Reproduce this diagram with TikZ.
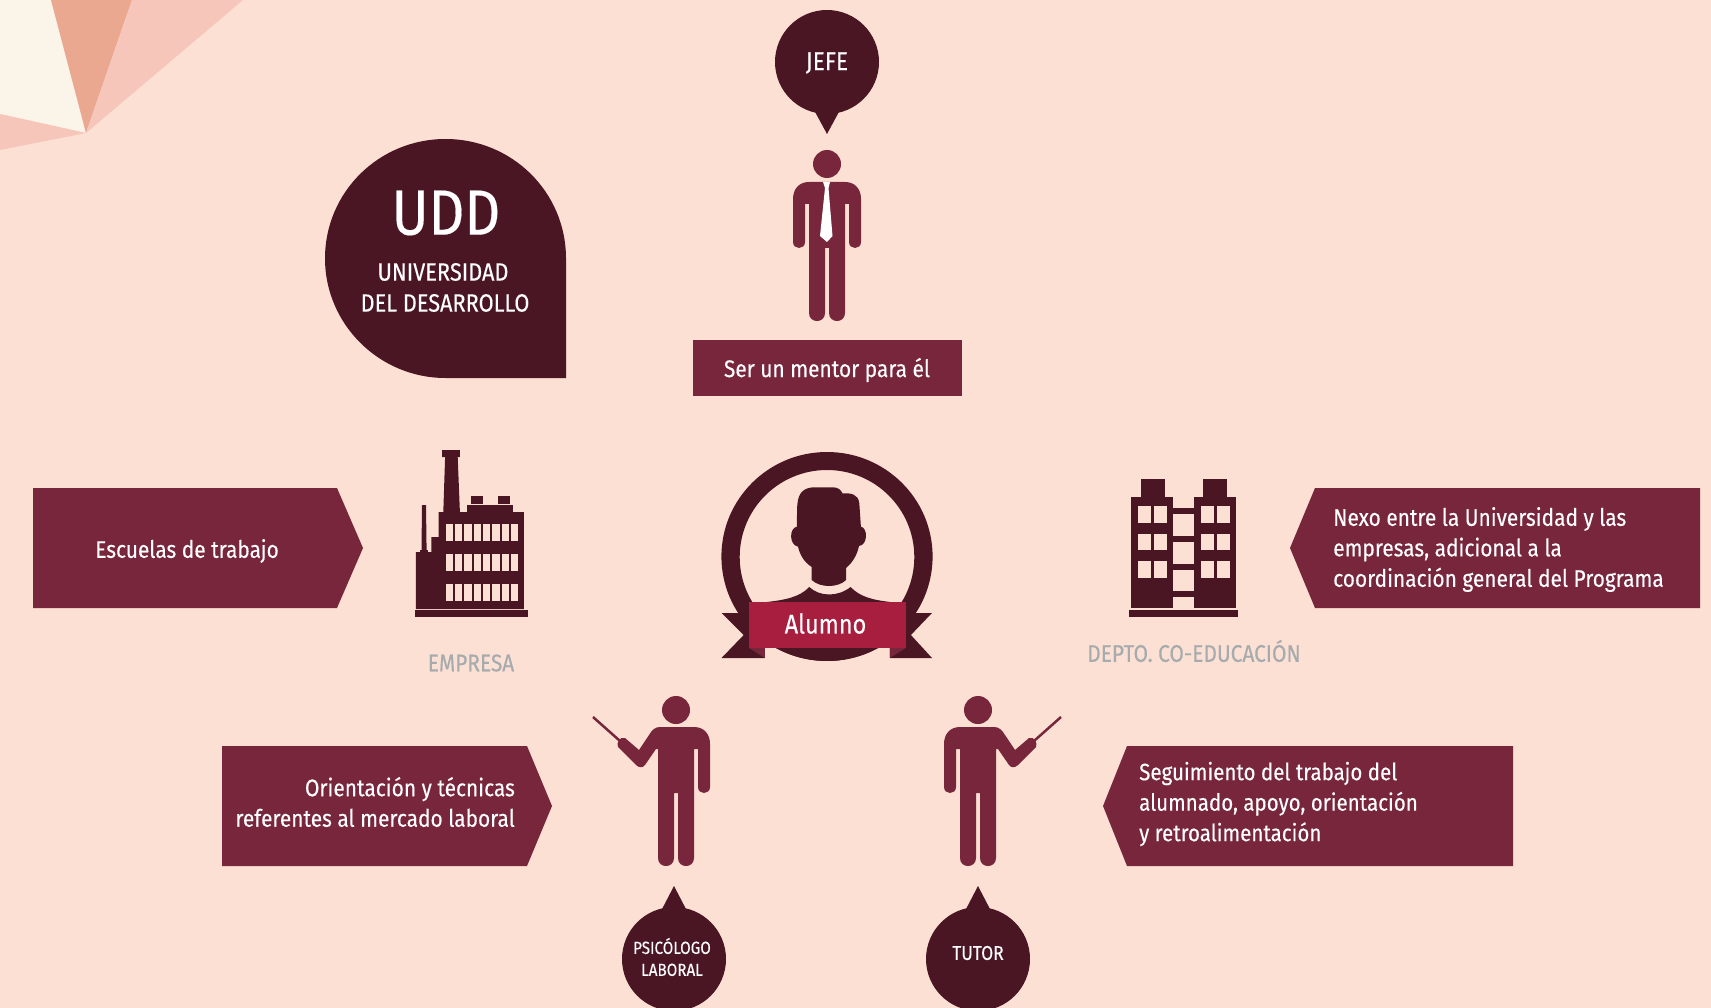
\documentclass[tikz,border=0pt]{standalone}
\usepackage{fontspec}
\usepackage{xcolor}
\setmainfont[FakeStretch=0.87,FakeBold=0.25]{Fira Sans}
\usetikzlibrary{positioning,calc}
\definecolor{fondo}{HTML}{FDE0D4}
\definecolor{vino}{HTML}{4A1624}
\definecolor{granate}{HTML}{78263C}
\definecolor{rojo}{HTML}{A81E3F}
\definecolor{crema}{HTML}{FBF4E8}
\definecolor{salmon}{HTML}{EAA891}
\definecolor{rosado}{HTML}{F5C6B9}
\definecolor{gris}{HTML}{A6ABAD}
\tikzset{
    txtflecha/.style={text=white, inner sep=0pt, font=\fontsize{24}{30.5}\selectfont},
    txtburbuja/.style={text=white, inner sep=0pt, align=center, font=\fontsize{26}{24}\selectfont},
    txtgris/.style={text=gris, inner sep=0pt, font=\fontsize{24}{27}\selectfont},
}
% legs and torso, shared by all three men
\newcommand{\piernas}{(34,17) -- (34,60) .. controls (34,68) and (22,68) .. (22,60) -- (22,22) -- (18,22) -- (18,131)
    .. controls (18,141.7) and (2,141.7) .. (2,131) -- (2,66) -- (-2,66) -- (-2,131)
    .. controls (-2,141.7) and (-18,141.7) .. (-18,131) -- (-18,22)}
\begin{document}
\begin{tikzpicture}[x=1pt, y=-1pt]
    \useasboundingbox (0,0) rectangle (1711,1008);
    \fill[fondo] (0,0) rectangle (1711,1008);

    % Corner
    \fill[crema] (0,0) -- (51,0) -- (86,133) -- (0,114) -- cycle;
    \fill[salmon] (51,0) -- (132,0) -- (86,133) -- cycle;
    \fill[rosado] (132,0) -- (243,0) -- (86,133) -- cycle;
    \fill[rosado] (0,114) -- (86,133) -- (0,150) -- cycle;

    % UDD
    \fill[vino] (566,378) -- (445.5,378) .. controls (379,378) and (325,324) .. (325,258.5)
        .. controls (325,192) and (379,139) .. (445.5,139) .. controls (512,139) and (566,192) .. (566,258.5) -- cycle;
    \node[text=white, inner sep=0pt, font=\fontsize{64}{70}\selectfont] (udd) at (446,213) {UDD};
    \node[text=white, inner sep=0pt, font=\fontsize{25}{30}\selectfont] (universidad) at (443,272) {UNIVERSIDAD};
    \node[text=white, inner sep=0pt, font=\fontsize{25}{30}\selectfont] (desarrollo) at (445,303) {DEL DESARROLLO};

    % Jefe
    \fill[vino] (827,62) circle[radius=52];
    \fill[vino] (814,110) -- (827,134) -- (840,110) -- cycle;
    \node[txtburbuja] (jefe) at (827,63) {JEFE};
    \begin{scope}[shift={(827,182)}]
        \fill[granate] (0,-18) circle[radius=14];
        \fill[granate] (-18,0) -- (18,0) .. controls (28,0) and (34,7) .. \piernas -- (-22,22) -- (-22,60)
            .. controls (-22,68) and (-34,68) .. (-34,60) -- (-34,17) .. controls (-34,7) and (-28,0) .. (-18,0) -- cycle;
        \fill[white] (-4,0) -- (3,0) -- (1.5,6) -- (5.5,54) -- (0,60) -- (-7,54) -- (-2,6) -- cycle;
    \end{scope}
    \fill[granate] (693,340) rectangle (962,396);
    \node[txtflecha] (mentor) at (827,370) {Ser un mentor para él};

    % Escuelas
    \fill[granate] (33,488) -- (337,488) -- (363,548) -- (337,608) -- (33,608) -- cycle;
    \node[txtflecha] (escuelas) at (187,551) {Escuelas de trabajo};

    % Factory
    \fill[vino] (414.8,610) rectangle (527.6,617);
    \fill[vino] (415.9,609) -- (415.9,552) -- (431.4,552) -- (431.4,537) -- (438.5,537) -- (438.5,512) -- (523.9,512) -- (523.9,609) -- cycle;
    \fill[vino] (443.3,512) -- (445.1,457) -- (442.2,457) -- (442.2,450) -- (459.9,450) -- (459.9,457) -- (457.7,457) -- (459.9,512) -- cycle;
    \fill[vino] (421.5,551) -- (422,505) -- (426,505) -- (426.6,551) -- cycle;
    \fill[vino] (419.6,550) rectangle (428.1,552);
    \fill[vino] (466.9,505) rectangle (513.2,512);
    \fill[vino] (470.6,496) rectangle (482.5,504);
    \fill[vino] (498,496) rectangle (509.9,504);
    \foreach \fila in {524,554,584}
        \foreach \col in {0,...,7}
            \fill[fondo] ({445.5+9.35*\col},\fila) rectangle ({453+9.35*\col},\fila+17);
    \node[txtgris] (empresa) at (471,663) {EMPRESA};

    % Alumno
    \fill[vino, even odd rule] (827,556.5) ellipse[x radius=105.6, y radius=104.5]
        (827,557) ellipse[x radius=87.3, y radius=87];
    \begin{scope}
        \clip (827,556.5) ellipse[x radius=105.6, y radius=104.5];
        \fill[vino] (766.6,602) .. controls (785,600) and (800,597) .. (809.2,587) .. controls (820,597) and (838,597) .. (850.6,587)
            .. controls (860,597) and (873,600) .. (890.5,602) -- (920,625) -- (900,665) -- (750,665) -- (730,625) -- cycle;
    \end{scope}
    \fill[vino] (796.9,526.7) .. controls (797,510) and (797,505) .. (798,500) .. controls (800,490) and (807,487.3) .. (815,487.3)
        -- (833,487.3) .. controls (838,487.3) and (841,490) .. (842.5,493.3) .. controls (851,493) and (858,494) .. (859.3,503)
        -- (860.9,526.7) .. controls (868,528) and (868,545) .. (859,546) .. controls (857,555) and (853,562) .. (846.1,568)
        -- (846.1,580) .. controls (838,588) and (820,588) .. (811.7,580) -- (811.7,567) .. controls (804,562) and (800,555) .. (798,546.7)
        .. controls (789,545) and (789,528) .. (796.9,526.7) -- cycle;
    \fill[vino] (721.5,613) -- (764.8,613) -- (764.8,658) -- (721.5,658) -- (743.7,635) -- cycle;
    \fill[vino] (932,613) -- (889.8,613) -- (889.8,658) -- (932,658) -- (910.9,635) -- cycle;
    \fill[granate] (749.2,648) -- (764.8,648) -- (764.8,658) -- cycle;
    \fill[granate] (905.7,648) -- (889.8,648) -- (889.8,658) -- cycle;
    \fill[rojo] (749.2,602) rectangle (905.7,648);
    \node[text=white, inner sep=0pt, font=\fontsize{27}{34}\selectfont] (alumno) at (825.5,623.5) {Alumno};

    % Depto
    \fill[vino] (1129,610) rectangle (1238,617);
    \fill[vino] (1131,497) rectangle (1173,608);
    \fill[vino] (1141,479) rectangle (1165,497);
    \fill[vino] (1194,497) rectangle (1236,608);
    \fill[vino] (1203,479) rectangle (1227,497);
    \foreach \fila in {508,536,564,591}
        \fill[vino] (1173,\fila) rectangle (1194,\fila+6);
    \foreach \fila in {506,533.5,561}
        \foreach \col in {1138,1154,1201,1217}
            \fill[fondo] (\col,\fila) rectangle (\col+12.5,\fila+16.5);
    \node[txtgris] (depto) at (1194,651) {DEPTO. CO-EDUCACIÓN};
    \fill[granate] (1700,488) -- (1315,488) -- (1290,548) -- (1315,608) -- (1700,608) -- cycle;
    \node[txtflecha, align=left, anchor=west] (nexo) at (1333,549.5) {Nexo entre la Universidad y las\\empresas, adicional a la\\coordinación general del Programa};

    % Psicologo
    \begin{scope}[shift={(676,727)}]
        \fill[granate] (0,-17) circle[radius=14];
        \fill[granate] (-16,0) -- (18,0) .. controls (28,0) and (34,7) .. \piernas -- (-20,22) -- (-31,38)
            .. controls (-33,41) and (-37,41) .. (-40,38) -- (-58,20) .. controls (-60,16) and (-56,9) .. (-51,11)
            -- (-37,23) -- (-27,8) .. controls (-24,3) and (-21,0) .. (-16,0) -- cycle;
        \draw[granate, line width=2.5pt] (-83,-10) -- (-56,14);
    \end{scope}
    \fill[granate] (222,746) -- (527,746) -- (552,806) -- (527,866) -- (222,866) -- cycle;
    \node[txtflecha, align=right, anchor=east] (orientacion) at (515,802) {Orientación y técnicas\\referentes al mercado laboral};
    \fill[vino] (674,959) circle[radius=52];
    \fill[vino] (661,911) -- (674,886) -- (687,911) -- cycle;
    \node[txtburbuja, font=\fontsize{17.5}{22}\selectfont] (psicologo) at (672,957) {PSICÓLOGO\\LABORAL};

    % Tutor
    \begin{scope}[shift={(978,727)}, xscale=-1]
        \fill[granate] (0,-17) circle[radius=14];
        \fill[granate] (-16,0) -- (18,0) .. controls (28,0) and (34,7) .. \piernas -- (-20,22) -- (-31,38)
            .. controls (-33,41) and (-37,41) .. (-40,38) -- (-58,20) .. controls (-60,16) and (-56,9) .. (-51,11)
            -- (-37,23) -- (-27,8) .. controls (-24,3) and (-21,0) .. (-16,0) -- cycle;
        \draw[granate, line width=2.5pt] (-83,-10) -- (-56,14);
    \end{scope}
    \fill[granate] (1513,746) -- (1127,746) -- (1103,806) -- (1127,866) -- (1513,866) -- cycle;
    \node[txtflecha, align=left, anchor=west, font=\fontsize{23.6}{30.5}\selectfont] (seguimiento) at (1139,804) {Seguimiento del trabajo del\\alumnado, apoyo, orientación\\y retroalimentación};
    \fill[vino] (978,959) circle[radius=52];
    \fill[vino] (965,911) -- (978,886) -- (991,911) -- cycle;
    \node[txtburbuja, font=\fontsize{20}{24}\selectfont] (tutor) at (978,953) {TUTOR};
\end{tikzpicture}
\end{document}
